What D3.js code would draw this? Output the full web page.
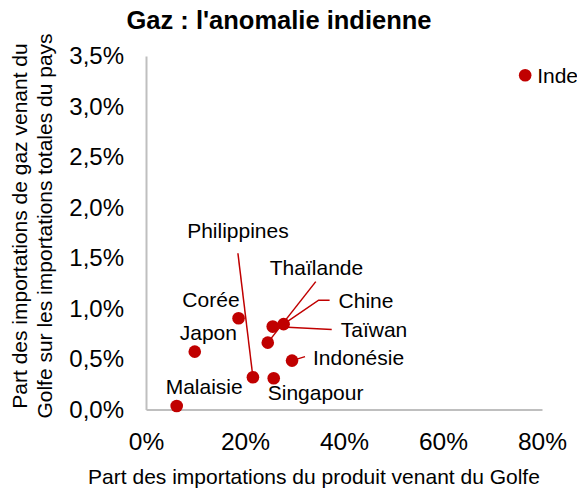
<!DOCTYPE html>
<html><head><meta charset="utf-8">
<script src="https://cdn.jsdelivr.net/npm/d3@7"></script>
<style>
html,body{margin:0;padding:0;background:#fff;}
text{font-family:"Liberation Sans",Arial,sans-serif;fill:#000;}
</style></head>
<body><svg id="c" width="577" height="488"></svg>
<script>
// ---- data ----
const countries = ["Inde","Malaisie","Japon","Corée","Philippines","Singapour","Thaïlande","Taïwan","Chine","Indonésie"];
const productShare = [76.6, 6.2, 9.85, 18.7, 21.6, 25.8, 24.6, 25.6, 27.8, 29.5];   // % of product imports from Gulf
const gasShare =     [3.31, 0.035, 0.573, 0.904, 0.319, 0.309, 0.662, 0.821, 0.845, 0.484]; // % of total imports
const xTicks = [0, 20, 40, 60, 80];
const yTicks = [0, 0.5, 1.0, 1.5, 2.0, 2.5, 3.0, 3.5];
const title = "Gaz : l'anomalie indienne";
const xTitle = "Part des importations du produit venant du Golfe";
const yTitle = ["Part des importations de gaz venant du", "Golfe sur les importations totales du pays"];

// ---- layout (label placement relative to point, px) ----
const labelLayout = {
  "Inde":        {dx: 12,  dy: 0,    anchor: "start"},
  "Malaisie":    {dx: -11, dy: -19,  anchor: "start"},
  "Japon":       {dx: -15, dy: -19,  anchor: "start"},
  "Corée":       {dx: 1,   dy: -19,  anchor: "end"},
  "Philippines": {dx: -15, dy: -147, anchor: "middle", leader: [[-15,-124]]},
  "Singapour":   {dx: -6,  dy: 14,   anchor: "start"},
  "Thaïlande":   {dx: 2,   dy: -75,  anchor: "start", leader: [[48,-61]]},
  "Taïwan":      {dx: 68,  dy: 3,    anchor: "start", leader: [[59,3]]},
  "Chine":       {dx: 55,  dy: -24,  anchor: "start", leader: [[35,-24],[46,-24]]},
  "Indonésie":   {dx: 21,  dy: -3,   anchor: "start", leader: [[13,-4]]}
};

const red = "#c00000", grey = "#bfbfbf";
const FONT = "Liberation Sans, Arial, sans-serif";
const svg = d3.select("#c");
const x = d3.scaleLinear().domain([0, 80]).range([146, 542]);
const y = d3.scaleLinear().domain([0, 3.5]).range([409.5, 56]);
const frLocale = d3.formatLocale({decimal: ",", thousands: " ", grouping: [3], currency: ["", "€"]});
const fy = frLocale.format(".1f");

// title
svg.append("text").attr("x", 279).attr("y", 20).attr("text-anchor", "middle")
  .attr("dominant-baseline", "central").attr("font-weight", "bold").attr("font-size", 25.5).text(title);

// axes
const gx = svg.append("g").attr("transform", `translate(0,${y(0)})`)
  .call(d3.axisBottom(x).tickValues(xTicks).tickSize(0).tickPadding(23).tickFormat(d => d + "%"));
gx.select(".domain").attr("stroke", grey).attr("stroke-width", 2);
gx.selectAll("text").attr("font-size", 24.5).attr("font-family", FONT).attr("fill", "#000");

const gy = svg.append("g").attr("transform", `translate(${x(0)},0)`)
  .call(d3.axisLeft(y).tickValues(yTicks).tickSize(0).tickPadding(22).tickFormat(d => fy(d) + "%"));
gy.select(".domain").attr("stroke", grey).attr("stroke-width", 2);
gy.selectAll("text").attr("font-size", 24).attr("font-family", FONT).attr("fill", "#000");

// axis titles
svg.append("text").attr("x", 314).attr("y", 476).attr("text-anchor", "middle")
  .attr("dominant-baseline", "central").attr("font-size", 21).text(xTitle);
yTitle.forEach((t, i) => {
  svg.append("text").attr("transform", `translate(${19 + i * 25},226) rotate(-90)`)
    .attr("text-anchor", "middle").attr("dominant-baseline", "central")
    .attr("font-size", 21).text(t);
});

// data rows
const rows = countries.map((c, i) => ({name: c, px: productShare[i], gs: gasShare[i]}));

// leaders
const lg = svg.append("g");
rows.forEach(r => {
  const L = labelLayout[r.name];
  if (!L.leader) return;
  const cx = x(r.px), cy = y(r.gs);
  const pts = [[cx, cy]].concat(L.leader.map(p => [cx + p[0], cy + p[1]]));
  lg.append("path").attr("d", d3.line()(pts)).attr("fill", "none")
    .attr("stroke", red).attr("stroke-width", 1.5);
});

// points
svg.append("g").selectAll("circle").data(rows).join("circle")
  .attr("cx", d => x(d.px)).attr("cy", d => y(d.gs)).attr("r", 6.3).attr("fill", red);

// labels
svg.append("g").selectAll("text").data(rows).join("text")
  .attr("x", d => x(d.px) + labelLayout[d.name].dx)
  .attr("y", d => y(d.gs) + labelLayout[d.name].dy)
  .attr("text-anchor", d => labelLayout[d.name].anchor)
  .attr("dominant-baseline", "central")
  .attr("font-size", 21).text(d => d.name);
</script></body></html>
